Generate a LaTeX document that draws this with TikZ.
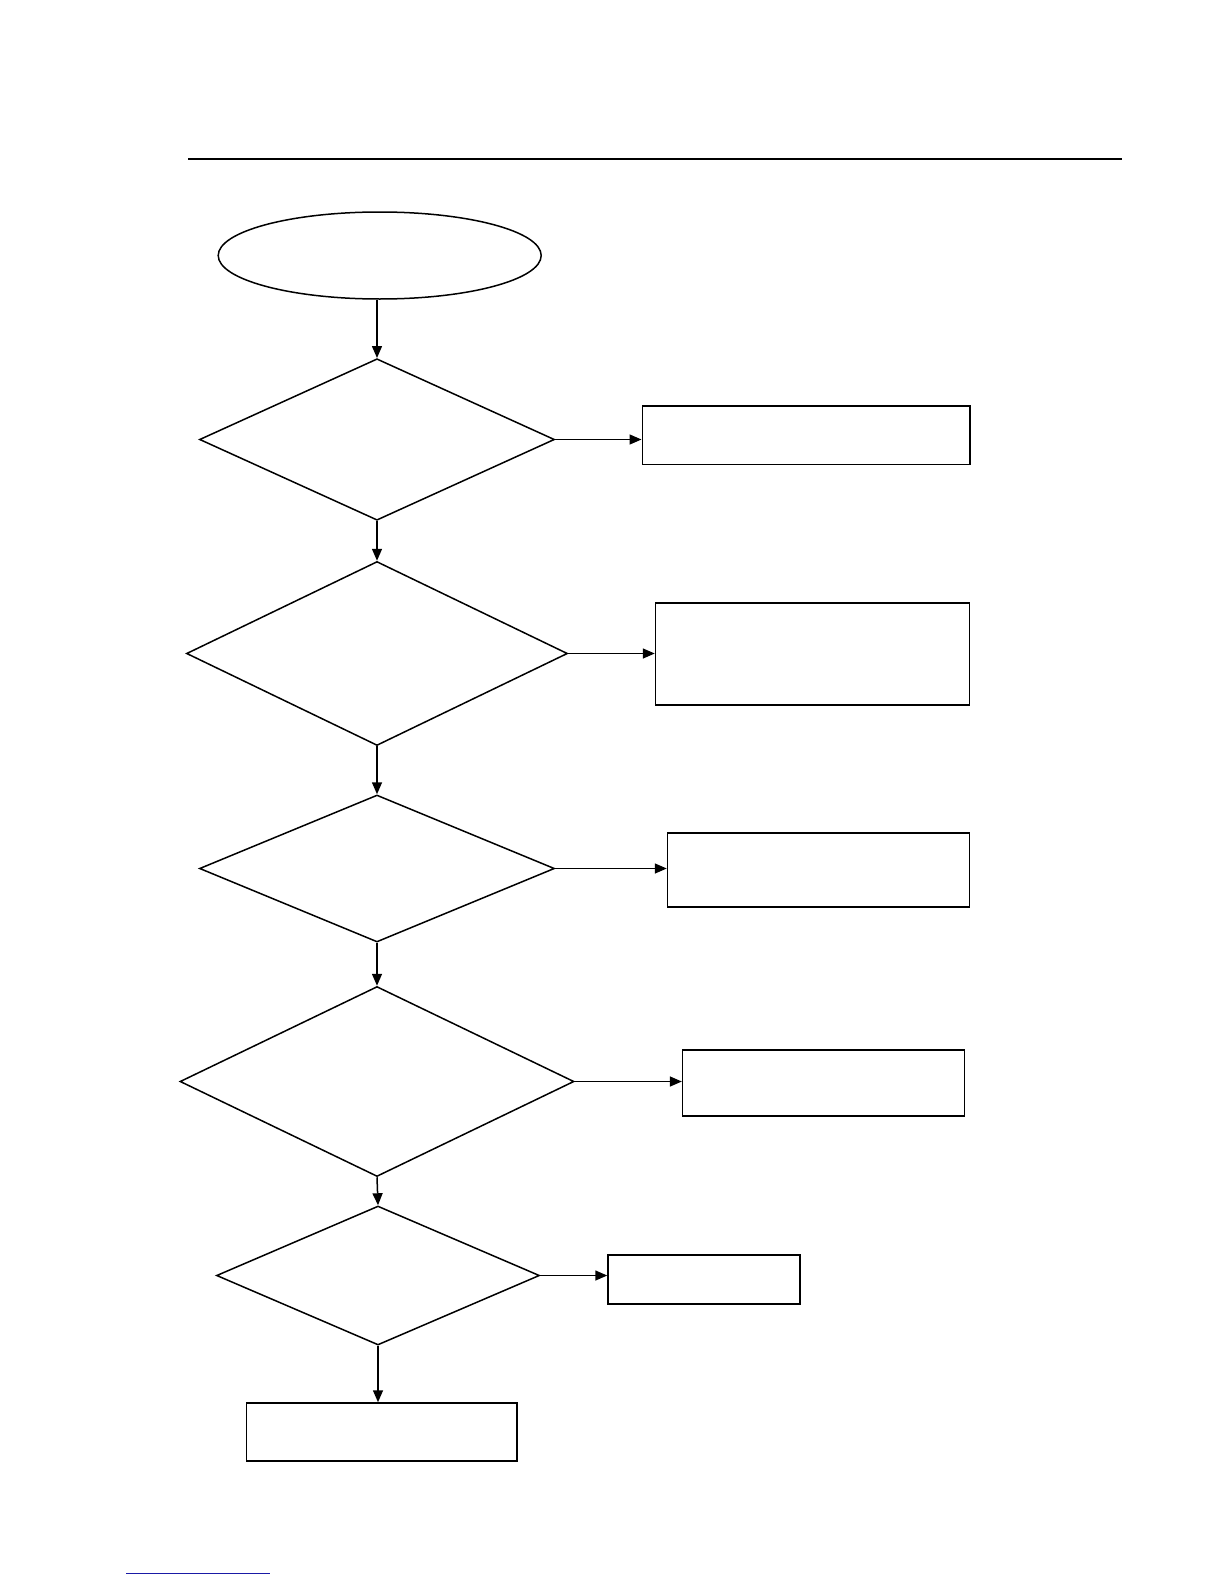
\documentclass[tikz,border=0pt]{standalone}
\usepackage{tikz}
\usetikzlibrary{arrows.meta,positioning,shapes.geometric}
\definecolor{cLine}{HTML}{000000}
\definecolor{cLink}{HTML}{1A1AA6}
\tikzset{
  box/.style={draw=cLine, line width=0.75pt, inner sep=0pt, fill=white},
  startnode/.style={box, ellipse, minimum width=161.5pt, minimum height=43.5pt},
  test/.style={box, diamond, shape aspect=2},
  action/.style={box, rectangle},
  flow/.style={-{Triangle[length=6pt, width=5pt]}, line width=0.75pt, draw=cLine},
}
\begin{document}
\begin{tikzpicture}[x=0.5pt, y=-0.5pt]
  \useasboundingbox (0,0) rectangle (1224,1584);
  % header rule and the stray link underline
  \draw[line width=1pt] (188,158.5) coordinate (ruleL) -- (1122,158.5) coordinate (ruleR);
  \draw[cLink, line width=0.8pt] (126,1573.5) -- (270,1573.5);

  \node[startnode] (start) at (379.7,255.5) {};

  \node[test, minimum width=177.5pt, minimum height=80.75pt] (t1) at (377,439.5) {};
  \node[test, minimum width=190.5pt, minimum height=92pt] (t2) at (377,653.5) {};
  \node[test, minimum width=177.5pt, minimum height=73.5pt] (t3) at (377,868.5) {};
  \node[test, minimum width=197pt, minimum height=95pt] (t4) at (377,1081.5) {};
  \node[test, minimum width=161.5pt, minimum height=69.5pt] (t5) at (378,1275.5) {};

  \node[action, minimum width=163.75pt, minimum height=29.25pt] (a1) at (806,435) {};
  \node[action, minimum width=157pt, minimum height=51pt] (a2) at (812.5,654) {};
  \node[action, minimum width=151pt, minimum height=37pt] (a3) at (818.5,870) {};
  \node[action, minimum width=141pt, minimum height=33pt] (a4) at (823.6,1083) {};
  \node[action, minimum width=96pt, minimum height=24.5pt] (a5) at (704,1279.5) {};
  \node[action, minimum width=135.3pt, minimum height=29pt] (a6) at (381.7,1432) {};

  \draw[flow] (start.south -| t1.north) -- (t1.north);
  \draw[flow] (t1.south) -- (t2.north);
  \draw[flow] (t2.south) -- (t3.north);
  \draw[flow] (t3.south) -- (t4.north);
  \draw[flow] (t4.south) -- (t5.north);
  \draw[flow] (t5.south) -- (t5.south |- a6.north);

  \draw[flow] (t1.east) -- (t1.east -| a1.west);
  \draw[flow] (t2.east) -- (t2.east -| a2.west);
  \draw[flow] (t3.east) -- (t3.east -| a3.west);
  \draw[flow] (t4.east) -- (t4.east -| a4.west);
  \draw[flow] (t5.east) -- (t5.east -| a5.west);
\end{tikzpicture}
\end{document}
